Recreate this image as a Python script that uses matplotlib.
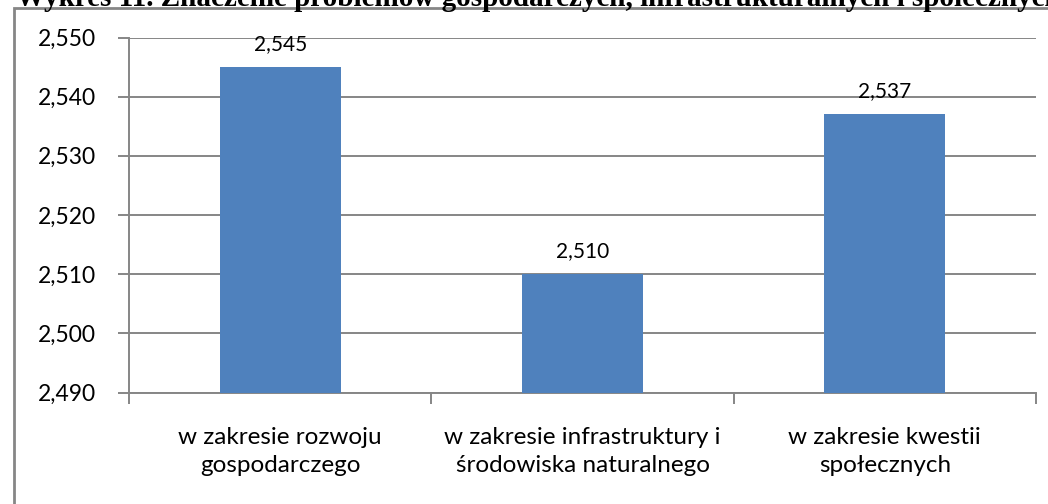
import matplotlib.pyplot as plt
from matplotlib.patches import Rectangle

# data
categories = ["w zakresie rozwoju\ngospodarczego",
              "w zakresie infrastruktury i\nśrodowiska naturalnego",
              "w zakresie kwestii\nspołecznych"]
values = [2.545, 2.510, 2.537]
y_ticks = [2.490, 2.500, 2.510, 2.520, 2.530, 2.540, 2.550]
title = "Wykres 11. Znaczenie problemów gospodarczych, infrastrukturalnych i społecznych"

grey = "#868686"
fnt = "Lato"

fig = plt.figure(figsize=(10.48, 5.04), dpi=100)
ax = fig.add_axes([129 / 1048, 1 - 392.5 / 504, (1036 - 129) / 1048, (392.5 - 37.5) / 504])

x = range(len(values))
ax.bar(x, values, width=0.4, color="#4F81BD", zorder=3)
for i, v in zip(x, values):
    ax.text(i, v + 0.0022, f"{v:.3f}".replace(".", ","), ha="center", va="bottom",
            fontsize=15, family=fnt)

ax.set_xlim(-0.5, len(values) - 0.5)
ax.set_ylim(y_ticks[0], y_ticks[-1])
ax.set_yticks(y_ticks)
ax.set_yticklabels([f"{t:.3f}".replace(".", ",") for t in y_ticks], fontsize=16.5, family=fnt)
ax.yaxis.grid(True, color=grey, linewidth=1.4, zorder=0)

ax.set_xticks([i - 0.5 for i in range(len(values) + 1)])
ax.set_xticklabels([])
ax.set_xticks(list(x), minor=True)
ax.set_xticklabels(categories, minor=True, fontsize=17.5, family=fnt, linespacing=1.42)
ax.tick_params(axis="x", which="minor", length=0, pad=25)
ax.tick_params(axis="x", which="major", length=8, color=grey, width=1.4)
ax.tick_params(axis="y", length=8, color=grey, width=1.4, pad=16)

for s in ["top", "right"]:
    ax.spines[s].set_visible(False)
for s in ["left", "bottom"]:
    ax.spines[s].set_color(grey)
    ax.spines[s].set_linewidth(1.4)

# outer chart frame, cropped by the picture edges
fig.patches.append(Rectangle((14 / 1048, -0.2), 1.2, 1.2 - 8 / 504, transform=fig.transFigure,
                             fill=False, edgecolor=grey, linewidth=2, clip_on=False))

fig.text(16 / 1048, 1 - 6.5 / 504, title, fontsize=21, fontweight="bold",
         family="Liberation Serif", ha="left", va="baseline")

fig.savefig("out.png", dpi=100)
